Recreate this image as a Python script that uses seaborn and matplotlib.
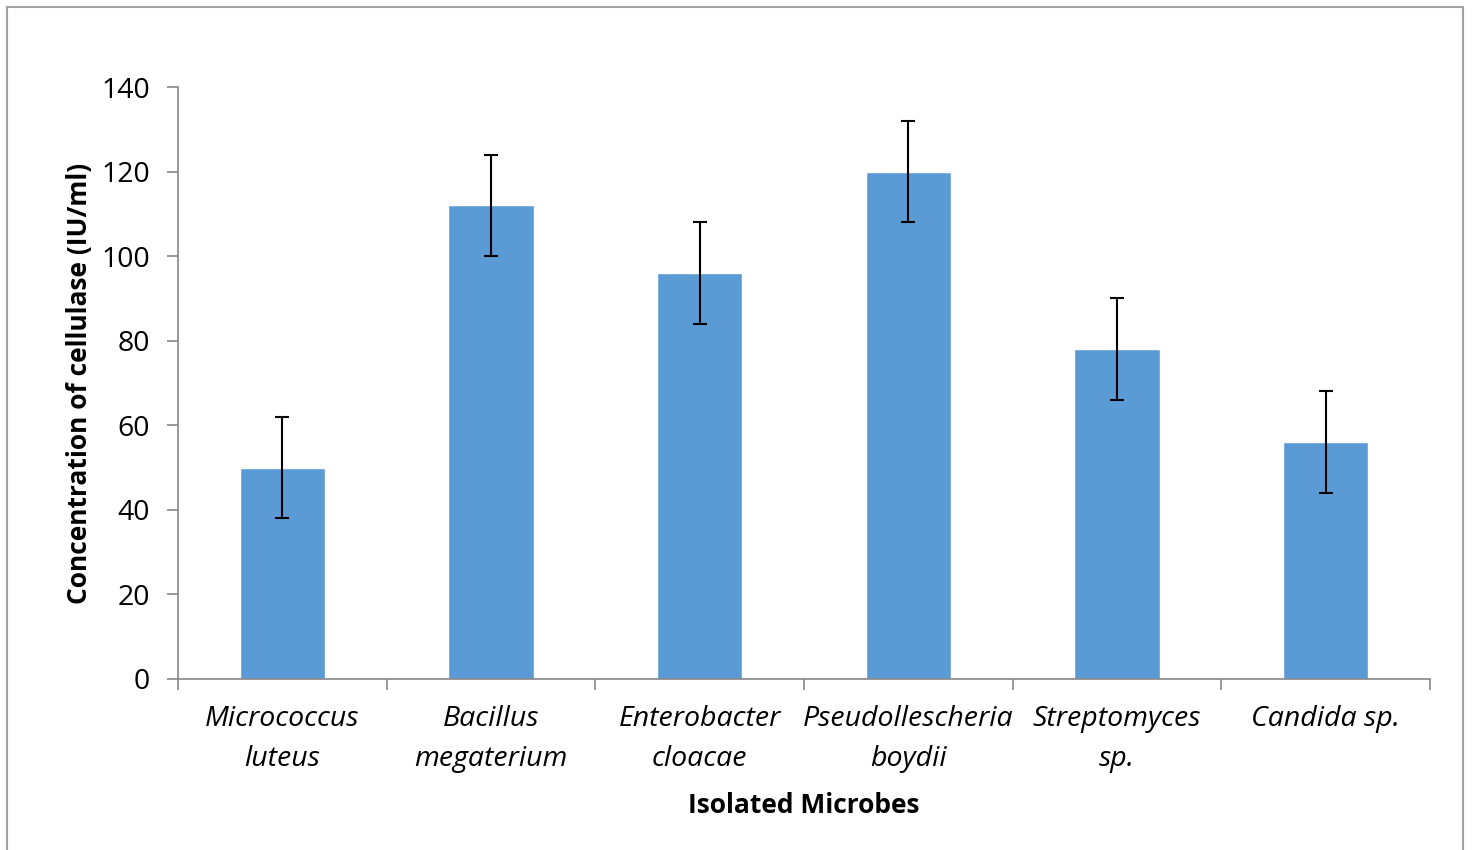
import pandas as pd
import seaborn as sns
import matplotlib.pyplot as plt
import numpy as np
from matplotlib.patches import Rectangle

microbes = ['Micrococcus\nluteus', 'Bacillus\nmegaterium', 'Enterobacter\ncloacae',
            'Pseudollescheria\nboydii', 'Streptomyces\nsp.', 'Candida sp.']
cellulase = [50, 112, 96, 120, 78, 56]
errors = [12, 12, 12, 12, 12, 12]
yticks = [0, 20, 40, 60, 80, 100, 120, 140]

sns.set_style('white')
plt.rcParams['font.family'] = ['Open Sans', 'DejaVu Sans']
plt.rcParams['font.size'] = 19
plt.rcParams['text.color'] = 'black'
plt.rcParams['axes.labelcolor'] = 'black'
plt.rcParams['xtick.color'] = 'black'
plt.rcParams['ytick.color'] = 'black'

df = pd.DataFrame({'Microbe': microbes, 'Concentration': cellulase})

fig = plt.figure(figsize=(14.72, 8.5), dpi=100)
ax = fig.add_axes([0.1209, 0.2012, 0.8506, 0.6964])

sns.barplot(data=df, x='Microbe', y='Concentration', color='#5B9BD5',
            saturation=1, width=0.41, errorbar=None, ax=ax)
ax.errorbar(np.arange(len(cellulase)), cellulase, yerr=errors, fmt='none',
            ecolor='black', elinewidth=1.5, capsize=4.7, capthick=1.5)

ax.set_xlim(-0.5, len(microbes) - 0.5)
ax.set_ylim(0, 140)
ax.set_yticks(yticks)
ax.set_xticks(np.arange(len(microbes)))
ax.set_xticklabels(microbes, fontstyle='italic', linespacing=1.55, fontsize=20.5)
ax.set_xticks(np.arange(len(microbes) + 1) - 0.5, minor=True)
ax.tick_params(axis='x', which='major', bottom=True, length=0, pad=19)
ax.tick_params(axis='x', which='minor', bottom=True, length=8, width=1.2,
               color='#888888', direction='out')
ax.tick_params(axis='y', left=True, length=8, width=1.2, color='#888888',
               direction='out', pad=12, labelsize=20.5, labelcolor='black')

for s in ['top', 'right']:
    ax.spines[s].set_visible(False)
for s in ['left', 'bottom']:
    ax.spines[s].set_color('#888888')
    ax.spines[s].set_linewidth(1.2)

ax.set_xlabel('Isolated Microbes', fontweight='bold', labelpad=14)
ax.set_ylabel('Concentration of cellulase (IU/ml)', fontweight='bold', labelpad=6)

fig.patches.append(Rectangle((7 / 1472, -0.05), (1463 - 7) / 1472, 1 - 7 / 850 + 0.05,
                             transform=fig.transFigure, fill=False,
                             edgecolor='#a0a0a0', linewidth=1.5))

fig.savefig('out.png', dpi=100)
